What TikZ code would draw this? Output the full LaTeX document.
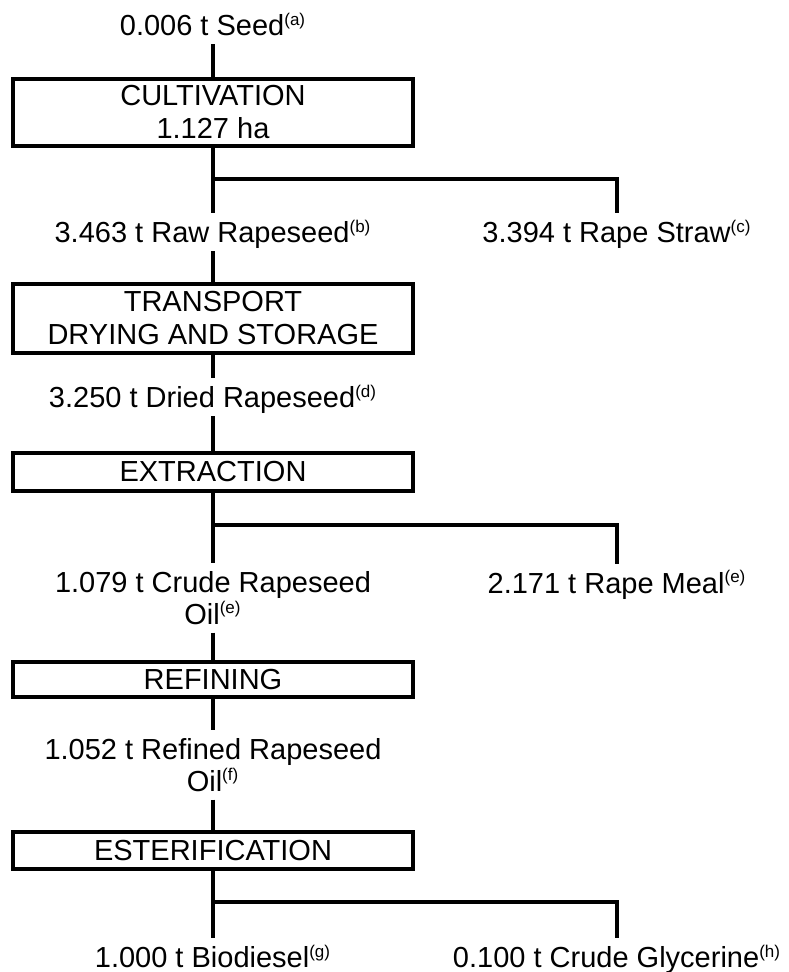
\documentclass[tikz,border=0pt]{standalone}
\usepackage{fontspec}
\setmainfont{Liberation Sans}
\newcommand{\fnmark}[1]{\textsuperscript{\fontsize{8.5}{8.5}\selectfont(#1)}}
\begin{document}
\begin{tikzpicture}[x=0.5pt,y=-0.5pt,line width=1.6pt,
  stage/.style={draw,line width=1.7pt,minimum width=200pt,inner sep=0pt,align=center,
    font=\fontsize{14.5}{16.5}\selectfont},
  flow/.style={anchor=base,inner xsep=0pt,inner ysep=3.5pt,text height=10.4pt,text depth=0pt,
    font=\fontsize{14.5}{16}\selectfont},
  flowtwo/.style={flow,align=center,text height=26.4pt}]
  \useasboundingbox (0,0) rectangle (788,972);
  % process stages
  \node[stage,minimum height=33.5pt] (cult) at (213,112.5) {CULTIVATION\\1.127 ha};
  \node[stage,minimum height=34.5pt] (trans) at (213,318.5) {TRANSPORT\\DRYING AND STORAGE};
  \node[stage,minimum height=19pt] (extr) at (213,472) {EXTRACTION};
  \node[stage,minimum height=17.5pt] (refin) at (213,679.5) {REFINING};
  \node[stage,minimum height=18.5pt] (ester) at (213,850.5) {ESTERIFICATION};
  % material flows
  \node[flow] (seed) at (213,35.5) {0.006 t Seed\fnmark{a}};
  \node[flow] (raw) at (213,242.5) {3.463 t Raw Rapeseed\fnmark{b}};
  \node[flow] (straw) at (617,242.5) {3.394 t Rape Straw\fnmark{c}};
  \node[flow] (dried) at (213,407.5) {3.250 t Dried Rapeseed\fnmark{d}};
  \node[flowtwo] (crude) at (213,624) {1.079 t Crude Rapeseed\\Oil\fnmark{e}};
  \node[flow] (meal) at (617,593) {2.171 t Rape Meal\fnmark{e}};
  \node[flowtwo] (refoil) at (213,791) {1.052 t Refined Rapeseed\\Oil\fnmark{f}};
  \node[flow] (biod) at (213,967.5) {1.000 t Biodiesel\fnmark{g}};
  \node[flow] (glyc) at (617,967.5) {0.100 t Crude Glycerine\fnmark{h}};
  % branch points
  \coordinate (cultsplit) at (213,179);
  \coordinate (extrsplit) at (213,525);
  \coordinate (estersplit) at (213,902);
  % connectors
  \draw (seed) -- (cult);
  \draw (cult) -- (cultsplit) -- (raw);
  \draw (cultsplit) -| (straw);
  \draw (raw) -- (trans);
  \draw (trans) -- (dried);
  \draw (dried) -- (extr);
  \draw (extr) -- (extrsplit) -- (crude);
  \draw (extrsplit) -| (meal);
  \draw (crude) -- (refin);
  \draw (refin) -- (refoil);
  \draw (refoil) -- (ester);
  \draw (ester) -- (estersplit) -- (biod);
  \draw (estersplit) -| (glyc);
\end{tikzpicture}
\end{document}
